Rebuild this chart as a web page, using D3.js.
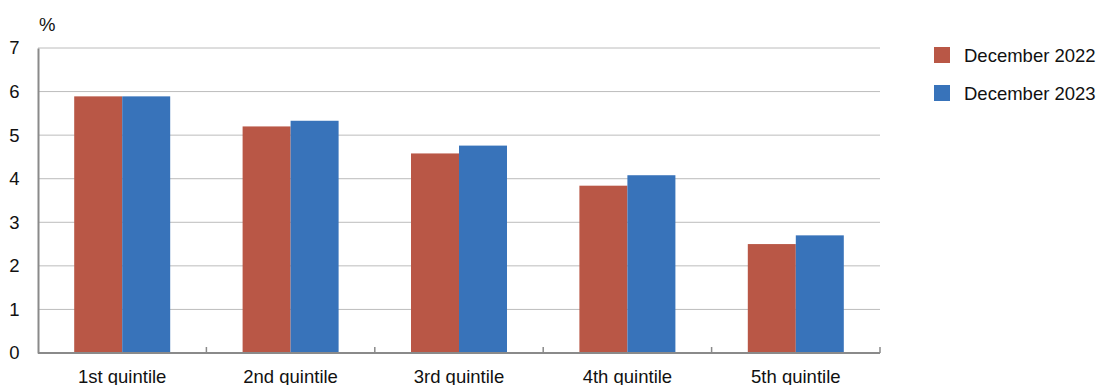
<!DOCTYPE html>
<html>
<head>
<meta charset="utf-8">
<script src="https://cdn.jsdelivr.net/npm/d3@7"></script>
<style>
  html, body { margin: 0; padding: 0; background: #fff; }
  svg { display: block; font-family: "Liberation Sans", Arial, Helvetica, sans-serif; }
</style>
</head>
<body>
<svg id="chart" width="1099" height="385"></svg>
<script>
// Categories and series
const categories = ["1st quintile", "2nd quintile", "3rd quintile", "4th quintile", "5th quintile"];
const seriesNames = ["December 2022", "December 2023"];
const dec2022 = [5.89, 5.2, 4.58, 3.84, 2.5];
const dec2023 = [5.89, 5.33, 4.76, 4.08, 2.7];
const yTicks = [0, 1, 2, 3, 4, 5, 6, 7];
const colors = ["#B95746", "#3873BA"];

const FS = 18.5;
const svg = d3.select("#chart");
const margin = { left: 38, right: 219, top: 48, bottom: 32 };
const W = 1099, H = 385;
const plotW = W - margin.left - margin.right;
const plotH = H - margin.top - margin.bottom;

const g = svg.append("g").attr("transform", `translate(${margin.left},${margin.top})`);

const x = d3.scaleBand().domain(categories).range([0, plotW]).paddingInner(0).paddingOuter(0);
const xInner = d3.scaleBand().domain(seriesNames).range([0, 96]);
const y = d3.scaleLinear().domain([0, 7]).range([plotH, 0]);

// Horizontal gridlines
g.append("g")
  .selectAll("line")
  .data(yTicks.filter(t => t > 0))
  .join("line")
  .attr("x1", 0).attr("x2", plotW)
  .attr("y1", d => y(d)).attr("y2", d => y(d))
  .attr("stroke", "#bcbcbc").attr("stroke-width", 1);

// Bars
const series = [dec2022, dec2023];
const groups = g.append("g")
  .selectAll("g")
  .data(categories)
  .join("g")
  .attr("transform", d => `translate(${x(d) + (x.bandwidth() - 96) / 2},0)`);

groups.selectAll("rect")
  .data((c, i) => seriesNames.map((s, k) => ({ s, k, v: series[k][i] })))
  .join("rect")
  .attr("x", d => xInner(d.s))
  .attr("width", xInner.bandwidth())
  .attr("y", d => y(d.v))
  .attr("height", d => plotH - y(d.v))
  .attr("fill", d => colors[d.k]);

// Y axis
const yAxis = d3.axisLeft(y).tickValues(yTicks).tickSize(0).tickPadding(14).tickFormat(d3.format("d"));
const ya = g.append("g").call(yAxis);
ya.select(".domain").attr("stroke", "#8a8a8a").attr("stroke-width", 2);
ya.selectAll("text").attr("font-size", FS).attr("fill", "#111").attr("text-anchor", "middle").attr("dx", -9.5);

// X axis with tick marks between categories
const boundaries = categories.map(c => x(c) + x.bandwidth());
g.append("line")
  .attr("x1", 0).attr("x2", plotW)
  .attr("y1", plotH).attr("y2", plotH)
  .attr("stroke", "#8a8a8a").attr("stroke-width", 2);
g.append("g").selectAll("line")
  .data(boundaries)
  .join("line")
  .attr("x1", d => d).attr("x2", d => d)
  .attr("y1", plotH).attr("y2", plotH - 6)
  .attr("stroke", "#8a8a8a").attr("stroke-width", 1.5);
g.append("g").selectAll("text")
  .data(categories)
  .join("text")
  .attr("x", d => x(d) + x.bandwidth() / 2)
  .attr("y", plotH + 30)
  .attr("text-anchor", "middle")
  .attr("font-size", FS)
  .attr("fill", "#111")
  .text(d => d);

// Unit label
svg.append("text")
  .attr("x", 39).attr("y", 31)
  .attr("font-size", FS).attr("fill", "#111")
  .text("%");

// Legend
const legend = svg.append("g").attr("transform", "translate(934,47)");
const li = legend.selectAll("g").data(seriesNames).join("g")
  .attr("transform", (d, i) => `translate(0,${i * 38})`);
li.append("rect").attr("width", 16).attr("height", 16).attr("fill", (d, i) => colors[i]);
li.append("text").attr("x", 30).attr("y", 15).attr("font-size", FS).attr("fill", "#111").text(d => d);
</script>
</body>
</html>
